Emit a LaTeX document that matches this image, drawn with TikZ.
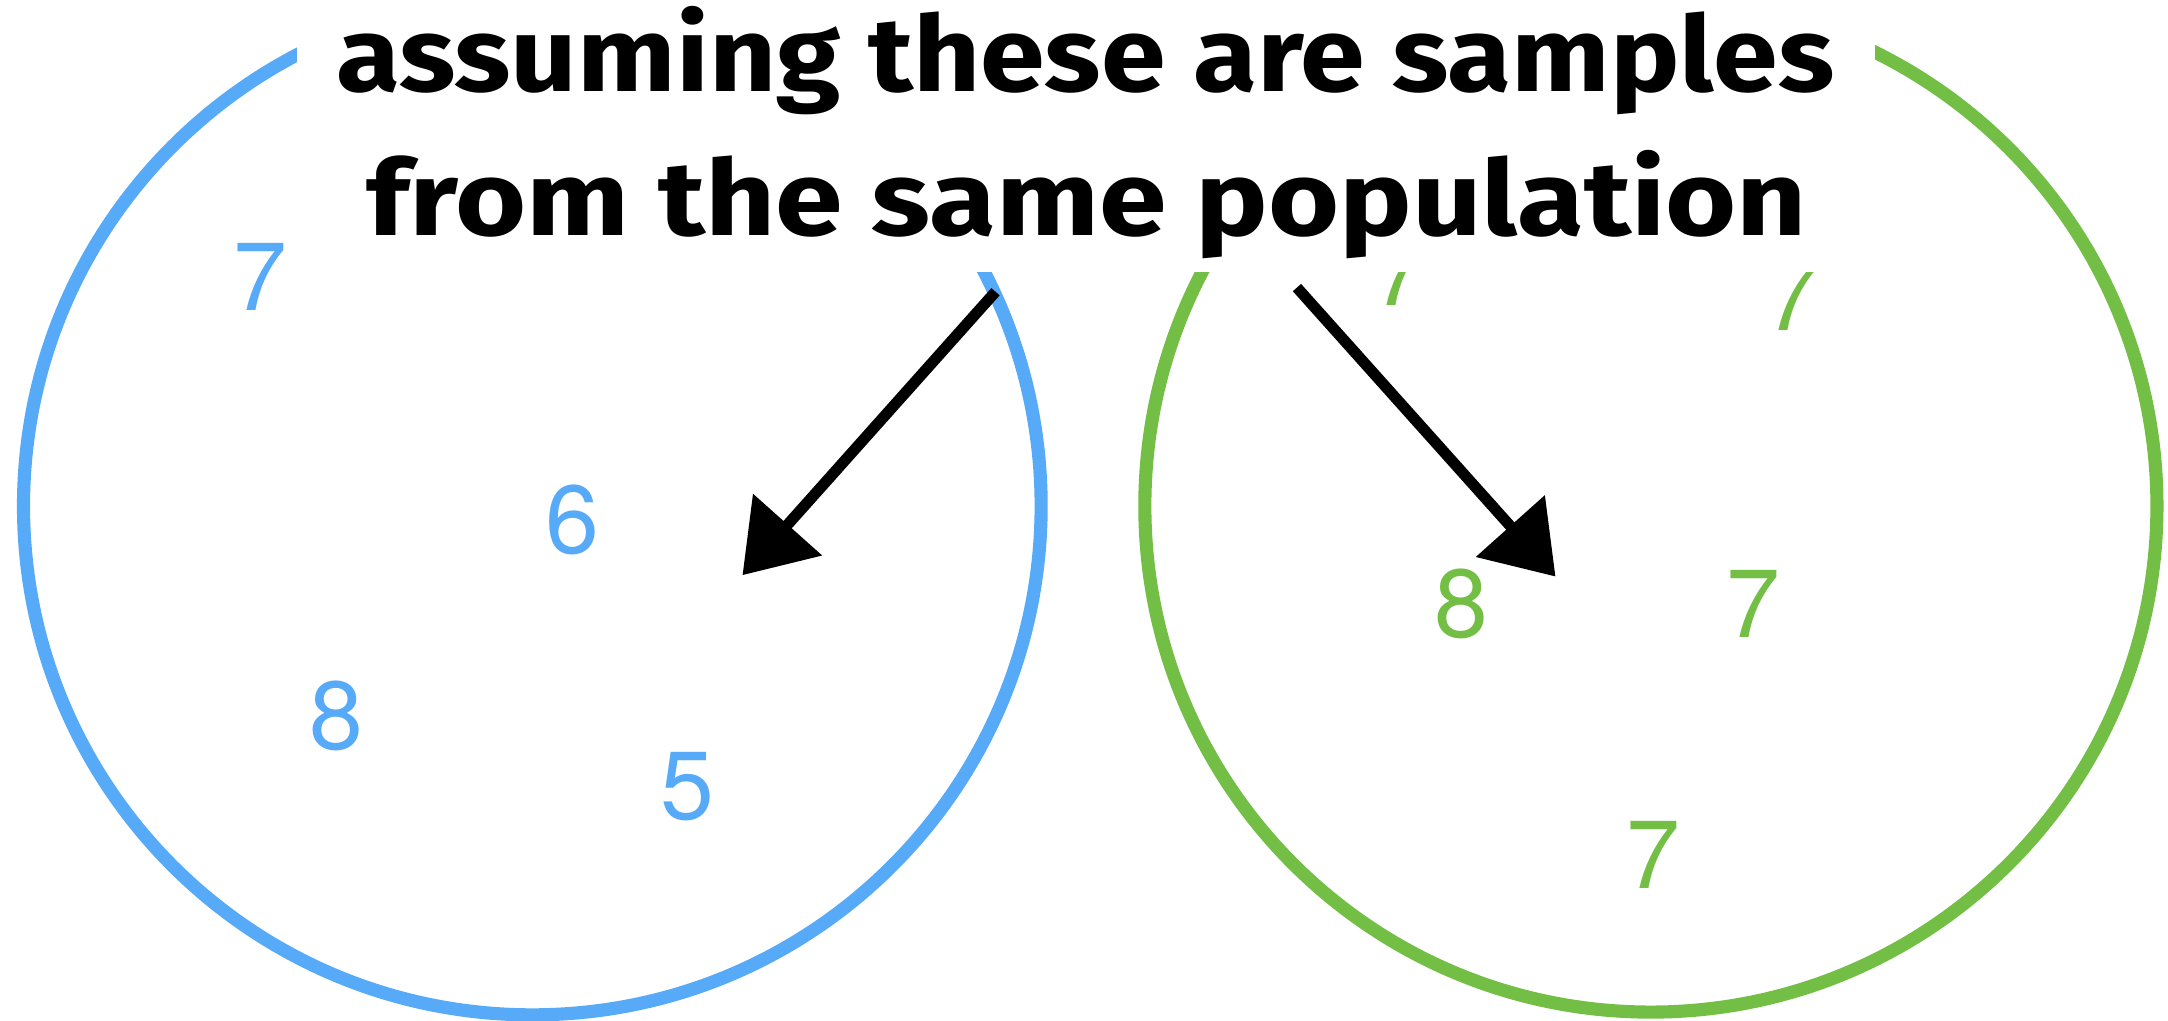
\documentclass[tikz,border=0pt]{standalone}
\usepackage{fontspec}
\setmainfont{TeX Gyre Heros}
\newfontfamily\handfont{Fira Sans}
\usetikzlibrary{arrows.meta}

\definecolor{sampleblue}{RGB}{86,170,248}
\definecolor{samplegreen}{RGB}{115,190,68}

\begin{document}
\begin{tikzpicture}[x=1pt, y=1pt,
    ring/.style={line width=9.5pt},
    digit/.style={font=\fontsize{70}{84}\selectfont, inner sep=0pt},
    hand/.style={font=\handfont\bfseries\fontsize{76}{90}\selectfont, anchor=base, inner sep=0pt},
    chalk/.style={line width=8pt, -{Triangle[length=49pt, width=65pt]}}]

\useasboundingbox (0,0) rectangle (1568,738);

% LEFT SAMPLE (blue)
\draw[ring, sampleblue] (385,372) circle (368);
\node[digit, text=sampleblue] (b7) at (188,538) {7};
\node[digit, text=sampleblue] (b6) at (414,362) {6};
\node[digit, text=sampleblue] (b8) at (243,220) {8};
\node[digit, text=sampleblue] (b5) at (497,169) {5};

% RIGHT SAMPLE (green)
\draw[ring, samplegreen] (1194,372) circle (366);
\node[digit, text=samplegreen] (g7a) at (1013,541) {7};
\node[digit, text=samplegreen] (g7b) at (1296,523) {7};
\node[digit, text=samplegreen] (g8) at (1057,301) {8};
\node[digit, text=samplegreen] (g7c) at (1268,301) {7};
\node[digit, text=samplegreen] (g7d) at (1196,120) {7};

% Label on a white patch
\fill[white] (215,541) rectangle (1356,750);
\node[hand, xscale=1.11] (line1) at (785,672) {assuming these are samples};
\node[hand, xscale=1.16] (line2) at (786,568) {from the same population};

% Arrows into both circles
\coordinate (lstart) at (720,527);
\coordinate (ltip) at (537,322);
\coordinate (rstart) at (938,530);
\coordinate (rtip) at (1125,321);
\draw[chalk] (lstart) -- (ltip);
\draw[chalk] (rstart) -- (rtip);

\end{tikzpicture}
\end{document}
